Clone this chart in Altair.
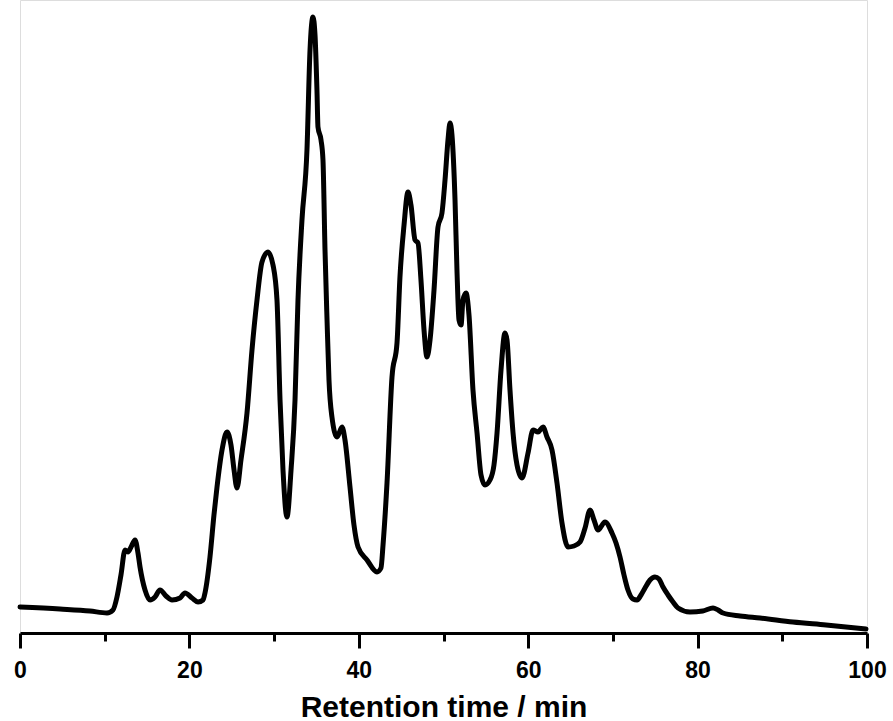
import altair as alt
import pandas as pd

# Retention time (min) and detector signal (arbitrary units)
time_min = [0, 4.72, 8.26, 10.27, 10.98, 11.45, 11.92, 12.40, 12.75, 13.11, 13.58, 13.93, 14.17, 14.76,
            15.35, 15.94, 16.53, 17.24, 17.95, 18.89, 19.48, 20.31, 21.02, 21.61, 21.84, 22.43, 22.90,
            23.26, 23.85, 24.44, 24.91, 25.27, 25.62, 26.09, 26.80, 27.39, 27.98, 28.57, 29.28, 29.87,
            30.34, 30.70, 31.05, 31.52, 32.0, 32.47, 32.82, 33.29, 33.88, 34.24, 34.59, 34.83, 35.06,
            35.18, 35.54, 35.77, 36.01, 36.25, 36.48, 36.83, 37.43, 38.02, 38.37, 38.96, 39.43, 39.91,
            40.97, 42.15, 42.62, 42.86, 43.33, 43.92, 44.51, 44.86, 45.34, 45.81, 46.16, 46.64, 46.99,
            47.34, 47.70, 48.05, 48.41, 48.88, 49.35, 49.82, 50.18, 50.53, 50.77, 51.0, 51.36, 51.59,
            51.83, 52.07, 52.30, 52.66, 53.01, 53.48, 53.96, 54.43, 54.90, 55.49, 55.96, 56.32, 56.79,
            57.26, 57.50, 57.85, 58.21, 58.68, 59.27, 59.98, 60.57, 61.16, 61.75, 62.22, 62.81, 63.40,
            63.99, 64.70, 65.41, 66.12, 66.71, 67.30, 67.77, 68.24, 69.07, 69.89, 70.37, 70.84, 71.31,
            71.78, 72.37, 72.85, 73.32, 73.79, 74.38, 74.97, 75.44, 75.92, 76.51, 77.10, 77.69, 79.10,
            80.61, 81.82, 82.41, 83.0, 85.01, 87.37, 91.26, 95.16, 99.88]
signal = [26, 24, 22, 20, 23, 36, 58, 83, 81, 86, 93, 80, 66, 43,
          33, 36, 43, 37, 33, 35, 40, 35, 31, 33, 40, 76, 118,
          146, 183, 201, 188, 163, 145, 173, 220, 283, 333, 371, 381, 368,
          333, 233, 163, 116, 163, 233, 333, 413, 483, 583, 616, 598, 543,
          506, 493, 473, 383, 313, 253, 216, 196, 206, 193, 146, 108, 86,
          73, 61, 65, 88, 150, 256, 290, 356, 408, 441, 428, 393, 390,
          353, 303, 276, 293, 343, 406, 420, 453, 493, 510, 498, 433, 363,
          313, 308, 333, 340, 318, 243, 200, 158, 148, 153, 168, 200, 263,
          300, 293, 243, 200, 168, 155, 180, 203, 201, 206, 196, 183, 150,
          110, 86, 87, 91, 105, 123, 113, 103, 111, 100, 90, 76, 58,
          43, 34, 33, 38, 45, 53, 56, 54, 46, 38, 31, 25, 21,
          22, 25, 23, 20, 17, 15, 11, 8, 4]

major_ticks = [0, 20, 40, 60, 80, 100]
minor_ticks = [10, 30, 50, 70, 90]

df = pd.DataFrame({"t": time_min, "s": signal})

x_scale = alt.Scale(domain=[0, 100], nice=False, zero=False)
y_scale = alt.Scale(domain=[0, 633], nice=False, zero=False)

line = alt.Chart(df).mark_line(
    color="black", strokeWidth=5, interpolate="monotone", strokeCap="round", strokeJoin="round"
).encode(
    x=alt.X("t:Q", scale=x_scale,
            axis=alt.Axis(values=major_ticks, title="Retention time / min", tickSize=15,
                          domainWidth=3, tickWidth=3, domainColor="black", tickColor="black",
                          labelFont="Liberation Sans", labelFontWeight="bold", labelFontSize=23,
                          labelColor="black", labelPadding=11, labelFlush=False,
                          titleFont="Liberation Sans", titleFontWeight="bold", titleFontSize=30,
                          titleColor="black", titlePadding=10, grid=False)),
    y=alt.Y("s:Q", scale=y_scale, axis=None),
)

minor_df = pd.DataFrame({"t": minor_ticks})
minor = alt.Chart(minor_df).mark_point(opacity=0).encode(
    x=alt.X("t:Q", scale=x_scale,
            axis=alt.Axis(values=minor_ticks, title=None, labels=False, tickSize=8,
                          tickWidth=3, tickColor="black", domain=False, grid=False,
                          orient="bottom")),
)

chart = alt.layer(line, minor).resolve_axis(x="independent").properties(
    width=847, height=633,
    autosize=alt.AutoSizeParams(type="none"),
    padding={"left": 20, "top": 0, "right": 26, "bottom": 88},
).configure_view(stroke=None).configure(background="white")

chart.save("out.html", embed_options={"renderer": "svg", "actions": False})
